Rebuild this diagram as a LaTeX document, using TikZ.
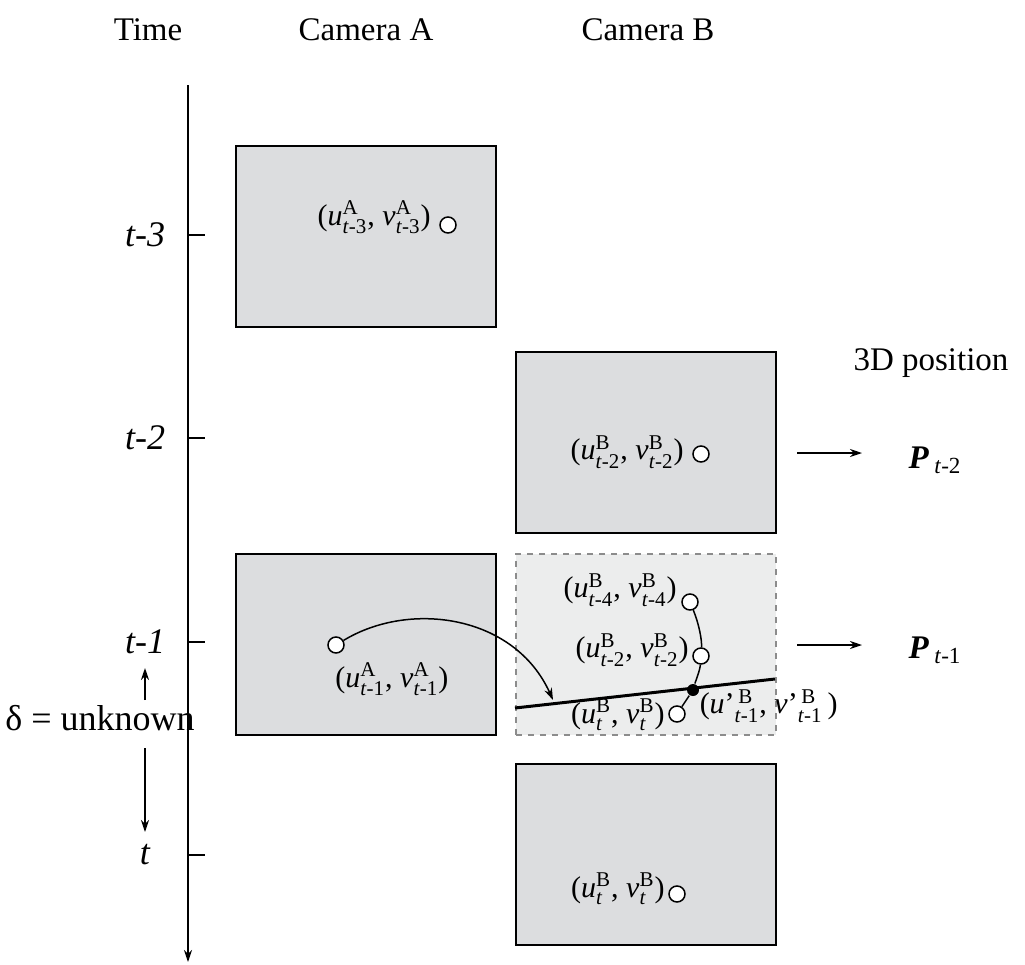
\documentclass[tikz,border=0pt]{standalone}
\usepackage{amsmath}
\usepackage{fontspec}
\setmainfont{Liberation Serif}
\usetikzlibrary{arrows.meta, positioning, calc}
\definecolor{framec}{HTML}{DCDDDF}
\definecolor{ghostc}{HTML}{ECEDED}
\definecolor{dashc}{HTML}{8C8C8C}

\newcommand{\uvpt}[2]{(\textit{u}$^{\text{#1}}_{\text{#2}}$, \textit{v}$^{\text{#1}}_{\text{#2}}$)}

\begin{document}
\begin{tikzpicture}[x=0.5pt, y=-0.5pt, >={Stealth[length=6pt,width=4pt]},
          line width=0.75pt,
          frame/.style={draw, fill=framec, minimum width=130pt,
                        minimum height=90.5pt, inner sep=0pt, anchor=north west},
          spot/.style={circle, draw, fill=white, minimum size=8pt, inner sep=0pt},
          head/.style={font=\fontsize{16.5}{20}\selectfont},
          tick/.style={font=\fontsize{18}{22}\selectfont\itshape},
          pt/.style={font=\fontsize{15}{18}\selectfont, inner sep=0pt, anchor=east}]
        \useasboundingbox (0,0) rectangle (1025,965);
        % headings
        \node[head] (hT) at (148,30) {Time};
        \node[head] (hA) at (366,30) {Camera A};
        \node[head] (hB) at (648,30) {Camera B};
        \node[head] (h3) at (931,363) {3D position};
        % time axis
        \coordinate (ax0) at (188,85);
        \coordinate (ax1) at (188,962);
        \draw[->] (ax0) -- (ax1);
        \foreach \y/\lab in {235/t-3, 438/t-2, 642/t-1, 855/t} {
          \draw (188,\y) -- (205,\y);
          \node[tick] at (145,\y) {\lab};
        }
        % delay
        \node[font=\fontsize{18}{22}\selectfont] (delta) at (100,718)
              {δ = unknown};
        \coordinate (du0) at (145,700);
        \coordinate (du1) at (145,668);
        \coordinate (dd0) at (145,748);
        \coordinate (dd1) at (145,832);
        \draw[->] (du0) -- (du1);
        \draw[->] (dd0) -- (dd1);
        % frames
        \node[frame] (fA3) at (235,145) {};
        \node[frame] (fB2) at (515,351) {};
        \node[frame] (fA1) at (235,553) {};
        \node[frame, draw=dashc, fill=ghostc, dashed] (fB1) at (515,553) {};
        \node[frame] (fB0) at (515,763) {};
        % points, camera A
        \node[spot] (cA3) at (448,225) {};
        \node[pt] (lA3) at ($(cA3.west)+(-8,-8)$) {\uvpt{A}{\textit{t}-3}};
        \node[spot] (cA1) at (336,645) {};
        \node[pt] (lA1) at (449,679) {\uvpt{A}{\textit{t}-1}};
        % points, camera B
        \node[spot] (cB2) at (701,454) {};
        \node[pt] (lB2) at ($(cB2.west)+(-8,-2)$) {\uvpt{B}{\textit{t}-2}};
        \node[spot] (cB0) at (677,894) {};
        \node[pt] (lB0) at ($(cB0.west)+(-3,-5)$) {\uvpt{B}{\textit{t}}};
        % interpolation in camera B
        \node[spot] (qB4) at (690,602) {};
        \node[pt] (mB4) at ($(qB4.west)+(-4,-12)$) {\uvpt{B}{\textit{t}-4}};
        \node[spot] (qB2) at (701,656) {};
        \node[pt] (mB2) at ($(qB2.west)+(-3,-6)$) {\uvpt{B}{\textit{t}-2}};
        \node[spot] (qB0) at (677,714) {};
        \node[pt] (mB0) at ($(qB0.west)+(-3,1)$) {\uvpt{B}{\textit{t}}};
        \node[circle, fill, minimum size=6pt, inner sep=0pt] (pk) at (693,690) {};
        \node[pt, anchor=west] (mpk) at (699,706)
              {(\textit{u}'$^{\,\text{B}}_{\text{\textit{t}-1}}$, \textit{v}'$^{\,\text{B}}_{\text{\textit{t}-1}}$\,)};
        \coordinate (ep0) at (515,708);
        \coordinate (ep1) at (775,679);
        \draw[line width=1.5pt] (ep0) -- (ep1);
        \draw (qB4) .. controls +(9,22) and +(1,-16) .. (qB2);
        \draw (qB2) .. controls +(-1,14) and +(3,-10) .. (pk);
        \draw (pk) -- (qB0);
        % epipolar transfer
        \coordinate (hit) at (553,700);
        \draw[->] (cA1) .. controls (410,600) and (515,615) .. (hit);
        % 3D output
        \node[head] (P2) at (935,460)
              {\textbf{\textit{P}}\,$_{\text{\textit{t}-2}}$};
        \node[head] (P1) at (935,650)
              {\textbf{\textit{P}}\,$_{\text{\textit{t}-1}}$};
        \coordinate (o2a) at (797,453);
        \coordinate (o2b) at (862,453);
        \coordinate (o1a) at (797,645);
        \coordinate (o1b) at (862,645);
        \draw[->] (o2a) -- (o2b);
        \draw[->] (o1a) -- (o1b);
      \end{tikzpicture}
\end{document}
